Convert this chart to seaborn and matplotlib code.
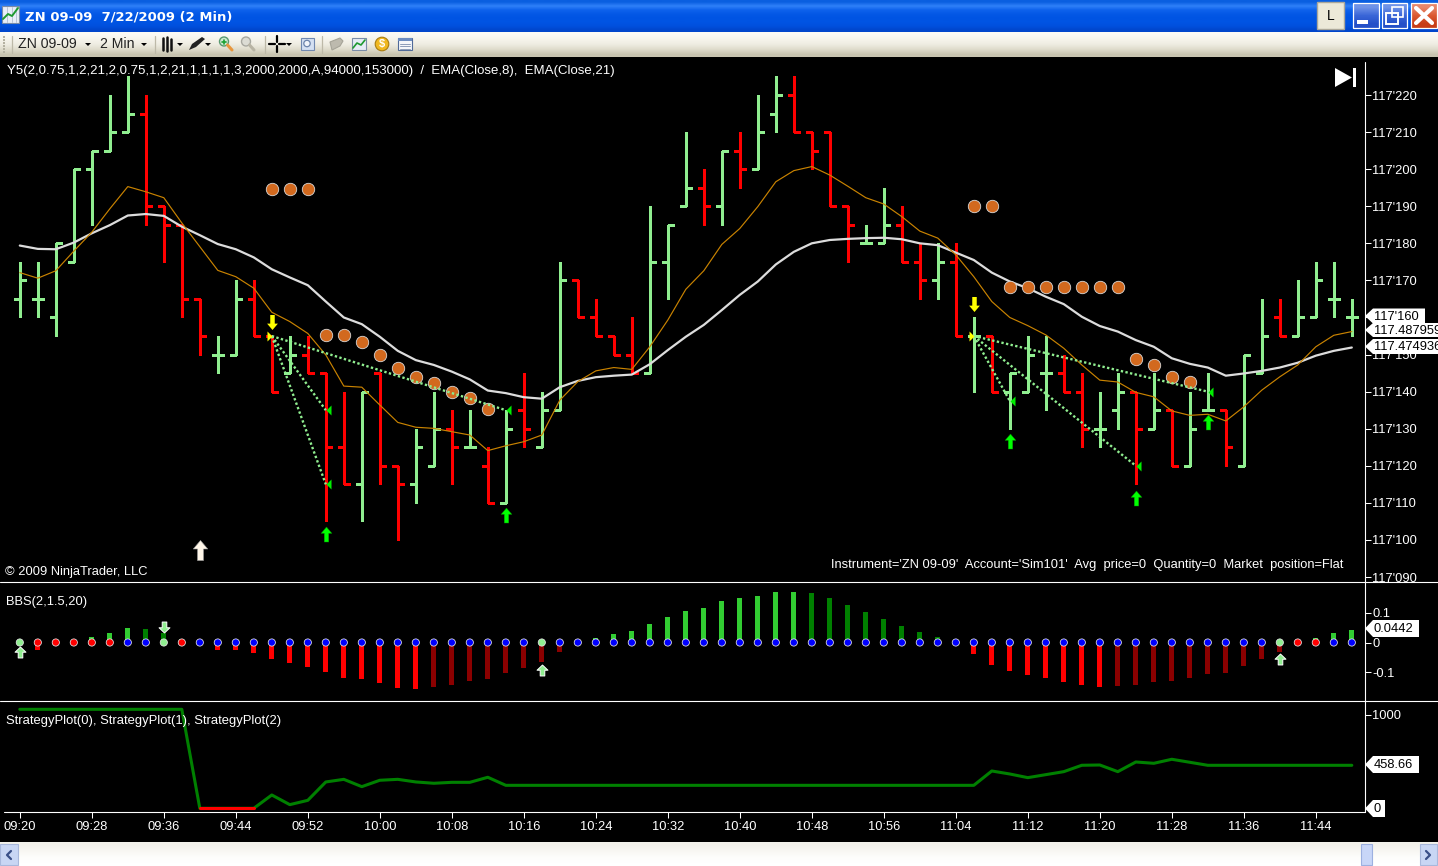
import numpy as np
import pandas as pd
import matplotlib.pyplot as plt
import seaborn as sns
from matplotlib.path import Path
from matplotlib.patches import Polygon, Rectangle, Circle

# prices are in the chart's own units: 220 means 117'220
high = [175,175,180,200,205,220,225,220,190,185, 165,155,170,170,155,155,155,145,140,140,
        145,120,130,140,135,135,125,135,145,140, 175,170,165,155,160,190,185,210,200,205,
        210,220,225,225,210,210,190,185,195,190, 180,180,180,160,155,145,155,155,150,145,
        140,145,140,145,135,140,145,135,150,165, 165,170,175,175,165]
low = [160,160,155,175,185,205,210,185,175,160, 150,145,150,155,140,145,145,105,115,105,
       115,100,110,120,115,125,110,110,125,125, 135,160,155,150,145,145,165,190,185,185,
       195,200,210,210,200,190,175,180,180,175, 165,165,155,140,140,130,140,135,140,125,
       125,130,115,130,120,120,135,120,120,145, 155,155,160,160,155]
open_ = [165,165,160,175,200,205,210,215,190,185, 165,150,150,165,155,145,150,145,125,115,
         145,120,115,120,130,125,120,110,135,125, 135,170,160,155,150,145,175,190,195,190,
         205,200,215,220,210,210,190,180,180,185, 175,170,175,155,155,140,140,145,145,140,
         130,135,140,130,135,120,135,135,120,145, 160,155,160,165,160]
close = [170,165,180,200,205,210,215,190,185,165, 155,150,165,155,140,150,145,125,115,140,
         120,115,125,130,125,125,110,130,130,135, 170,160,155,150,145,175,185,195,190,205,
         200,210,220,210,205,190,185,180,185,175, 170,175,155,155,140,145,150,145,140,130,
         130,140,130,135,120,130,135,125,150,155, 155,160,170,165,160]

ema8 = [172.1,170.6,172.6,177.9,183.0,189.3,195.3,193.9,192.3,185.5, 179.1,172.7,171.0,167.9,161.4,158.9,155.7,149.9,141.5,141.2,
        136.4,131.7,130.4,130.1,129.2,128.3,124.1,125.4,126.5,128.3, 137.7,142.7,145.6,146.5,146.0,152.1,159.3,167.6,172.6,179.7,
        184.0,189.9,196.6,199.6,200.7,198.4,195.4,192.3,190.6,187.2, 183.3,181.4,176.9,171.0,164.3,160.0,157.8,155.3,151.7,147.2,
        143.1,142.6,139.8,138.6,134.8,133.6,133.9,132.1,135.9,140.4, 144.0,147.2,152.1,155.2,156.2]
ema21 = [179.4,178.5,178.4,180.2,182.7,184.9,187.5,187.9,187.4,184.5, 182.2,179.8,178.4,176.2,173.0,170.8,168.7,164.3,160.0,158.2,
         154.8,151.0,148.5,147.2,145.4,143.3,140.3,139.6,138.5,138.1, 141.2,142.9,143.9,144.3,144.6,147.4,151.2,154.8,158.0,162.0,
         166.1,169.7,174.3,177.7,180.0,180.9,181.2,181.4,181.5,181.1, 180.0,179.5,177.5,175.5,172.1,169.7,167.9,165.6,163.6,160.2,
         157.7,156.2,153.9,152.1,149.0,147.5,146.5,144.3,144.9,145.6, 146.5,147.8,149.7,151.0,151.9]

dot_bars = [14,15,16, 17,18,19,20,21,22,23,24,25,26, 53,54, 55,56,57,58,59,60,61, 62,63,64,65]
dot_vals = [194.6,194.6,194.6, 155.3,155.3,153.4,149.9,146.4,143.9,142.3,140.0,138.3,135.3,
            190.1,190.1, 168.1,168.1,168.1,168.1,168.1,168.1,168.1, 148.7,147.2,144.0,142.6]

entry_sets = [(14, 155, [17,17,27], [135,115,135]),
              (53, 155, [55,62,66], [137.5,120,140])]
green_up_bars = [17,27,55,62,66]
green_up_vals = [101.5,106.7,126.7,111.4,131.8]
yellow_down_bars = [14,53]
yellow_down_vals = [158.8,163.6]
white_up_bars = [10]
white_up_vals = [97.3]

bbs = [0,-.025,0,0,.019,.033,.049,.046,.033,.012, 0,-.025,-.025,-.035,-.055,-.069,-.082,-.099,-.119,-.122,
       -.136,-.153,-.156,-.149,-.143,-.129,-.122,-.102,-.085,-.065, -.031,0,.016,.029,.039,.063,.087,.107,.117,.14,
       .151,.157,.171,.171,.167,.151,.127,.103,.08,.056, .036,.019,0,-.038,-.075,-.096,-.109,-.119,-.133,-.143,
       -.149,-.146,-.143,-.133,-.129,-.119,-.106,-.102,-.079,-.055, -.031,0,.016,.033,.043]
bbs_colors = (['red']*4 + ['limegreen']*3 + ['green']*3 + ['red']*13 + ['darkred']*8 + ['limegreen']*13
              + ['green']*8 + ['red']*9 + ['darkred']*10 + ['red']*1 + ['limegreen']*3)
dot_colors = (['lightgreen'] + ['red']*5 + ['blue']*2 + ['lightgreen'] + ['red'] + ['blue']*19 + ['lightgreen']
              + ['blue']*40 + ['lightgreen'] + ['red']*2 + ['blue']*2)
bbs_up_bars = [0,29,70]
bbs_up_vals = [-.032,-.091,-.054]
bbs_down_bars = [8]
bbs_down_vals = [.052]

strategy = [1056]*10 + [0,0,0,0,142,39,85,281,309,231,299,309,281,267,277,277,331] + [245]*27 \
           + [398,366,327,359,391,459,462,391,494,480,523,491] + [458.66]*9

time_labels = ['09:20','09:28','09:36','09:44','09:52','10:00','10:08','10:16','10:24','10:32',
               '10:40','10:48','10:56','11:04','11:12','11:20','11:28','11:36','11:44']
price_ticks = list(range(90, 221, 10))

W, H = 1438, 866
sns.set_theme(style='dark', rc={'axes.facecolor': 'black', 'figure.facecolor': 'black',
                                'axes.grid': False, 'text.color': 'white'})
plt.rcParams['font.family'] = ['Liberation Sans', 'DejaVu Sans']
FS = 9.3
XLIM = (-19.8 / 18, (1365 - 19.8) / 18)

bars = np.arange(len(high))
fig = plt.figure(figsize=(W / 100, H / 100), dpi=100)


def panel(top, bottom, right=1365):
    a = fig.add_axes([0, 1 - bottom / H, right / W, (bottom - top) / H])
    a.set_facecolor('black')
    for s in a.spines.values():
        s.set_visible(False)
    a.set_xlim(*XLIM)
    a.set_xticks([])
    a.yaxis.tick_right()
    a.tick_params(axis='y', colors='white', length=4.3, width=0.75, pad=0.8, labelsize=FS, right=True)
    return a


up_arrow = Path([(0,1),(.72,.15),(.3,.15),(.3,-1),(-.3,-1),(-.3,.15),(-.72,.15),(0,1)], closed=True)
down_arrow = Path([(x, -y) for x, y in up_arrow.vertices], closed=True)
bbs_up = Path([(0,1),(1,.05),(.42,.05),(.42,-1),(-.42,-1),(-.42,.05),(-1,.05),(0,1)], closed=True)
bbs_down = Path([(x, -y) for x, y in bbs_up.vertices], closed=True)
tri_left = Path([(0,0),(1,1),(1,-1),(0,0)], closed=True)
tri_right = Path([(0,0),(-1,1),(-1,-1),(0,0)], closed=True)

# price panel
ax = panel(57, 582)
ax.set_ylim(220 - (582 - 95) / 3.708, 220 + (95 - 57) / 3.708)
df = pd.DataFrame({'bar': bars, 'high': high, 'low': low, 'open': open_, 'close': close,
                   'ema8': ema8, 'ema21': ema21})
df['color'] = np.where(df['close'] >= df['open'], '#90EE90', '#FF0000')
ax.vlines(df['bar'], df['low'], df['high'], colors=df['color'], linewidth=2.16, zorder=2, antialiased=False)
ax.hlines(df['open'], df['bar'] - 0.34, df['bar'], colors=df['color'], linewidth=2.16, zorder=2, antialiased=False)
ax.hlines(df['close'], df['bar'], df['bar'] + 0.34, colors=df['color'], linewidth=2.16, zorder=2, antialiased=False)
sns.lineplot(data=df, x='bar', y='ema21', ax=ax, color='#DCDCDC', linewidth=1.6, zorder=3, errorbar=None)
sns.lineplot(data=df, x='bar', y='ema8', ax=ax, color='#C98300', linewidth=0.85, zorder=3, errorbar=None)
sns.scatterplot(x=dot_bars, y=dot_vals, ax=ax, color='#D2691E', edgecolor='#D8D8D8', linewidth=0.6, s=80, zorder=4)
for start, level, ends, vals in entry_sets:
    for e, v in zip(ends, vals):
        ax.plot([start, e], [level, v], color='#90EE90', linewidth=1.7, linestyle=(0, (1, 1)), zorder=5)
    ax.scatter(ends, vals, marker=tri_left, s=52, color='#00EE00', linewidth=0, zorder=6)
    ax.scatter([start], [level], marker=tri_right, s=52, color='#FFFF00', linewidth=0, zorder=6)
ax.scatter(green_up_bars, green_up_vals, marker=up_arrow, s=117, color='#00FF00', edgecolor='#008800', linewidth=0.3, zorder=6)
ax.scatter(yellow_down_bars, yellow_down_vals, marker=down_arrow, s=117, color='#FFFF00', linewidth=0, zorder=6)
ax.scatter(white_up_bars, white_up_vals, marker=up_arrow, s=210, color='#FFF6E8', edgecolor='#999999', linewidth=0.4, zorder=6)
ax.set_yticks(price_ticks)
ax.set_yticklabels(["117'%03d" % p for p in price_ticks])
ax.set_xlabel('')
ax.set_ylabel('')
ax.set_xticks([])
ax.set_xlim(*XLIM)

# BBS panel
ax2 = panel(583, 701)
df2 = pd.DataFrame({'bar': bars, 'bbs': bbs, 'color': bbs_colors})
sns.barplot(data=df2, x='bar', y='bbs', hue='color', native_scale=True, dodge=False, width=5 / 18,
            palette={'limegreen': '#32CD32', 'green': '#008000', 'red': '#FF0000', 'darkred': '#8B0000'},
            legend=False, ax=ax2, saturation=1, zorder=2, errorbar=None, edgecolor='none', linewidth=0)
ax2.scatter(bars, np.zeros(len(bars)), c=dot_colors, s=27, edgecolor='#E8E8E8', linewidth=0.55, zorder=3)
ax2.scatter(bbs_up_bars, bbs_up_vals, marker=bbs_up, s=62, color='#90EE90', edgecolor='white', linewidth=0.7, zorder=4)
ax2.scatter(bbs_down_bars, bbs_down_vals, marker=bbs_down, s=62, color='#90EE90', edgecolor='white', linewidth=0.7, zorder=4)
ax2.set_ylim((642.5 - 701) / 297, (642.5 - 583) / 297)
ax2.set_yticks([-0.1, 0, 0.1])
ax2.set_yticklabels(['-0.1', '0', '0.1'])
ax2.set_xlabel('')
ax2.set_ylabel('')
ax2.set_xticks([])
ax2.set_xlim(*XLIM)

# strategy panel
ax3 = panel(702, 812)
df3 = pd.DataFrame({'bar': bars, 'strategy': strategy})
sns.lineplot(data=df3, x='bar', y='strategy', ax=ax3, color='#008000', linewidth=2.2, errorbar=None)
sns.lineplot(data=df3[df3['bar'].between(10, 13)], x='bar', y='strategy', ax=ax3, color='#FF0000', linewidth=2.2, errorbar=None)
ax3.set_ylim(-39.5, 1134)
ax3.set_yticks([1000])
ax3.set_xticks(bars[::4])
ax3.set_xticklabels(time_labels)
ax3.tick_params(axis='x', colors='white', length=4.3, width=0.75, pad=2.2, labelsize=FS, bottom=True)
ax3.set_xlabel('')
ax3.set_ylabel('')
ax3.set_xlim(*XLIM)

# overlay in screen pixels: window frame, separators, value flags, captions
ov = fig.add_axes([0, 0, 1, 1], zorder=10)
ov.patch.set_alpha(0)
ov.axis('off')


def gradient(x0, x1, y0, y1, colors):
    rows = np.array([[plt.matplotlib.colors.to_rgb(c)] for c in colors])
    ov.imshow(rows, extent=(x0, x1, y1, y0), origin='upper', aspect='auto', interpolation='bilinear', zorder=1)


gradient(0, W, 0, 32, ['#0A5FE0', '#2F80F8', '#0E62EC', '#0458E6', '#0054E3', '#0054E3', '#0050DE', '#0046CC'])
gradient(0, W, 32, 57, ['#FBFAF5', '#F6F4EC', '#EEECE1', '#DEDBCB', '#C8C4B0'])
gradient(0, W, 842, 866, ['#F2F1EB', '#F8F7F3', '#FDFDFB', '#FFFFFF'])


def rect(x0, y0, x1, y1, fc, ec='none', lw=0.8, z=3):
    ov.add_patch(Rectangle((x0, y0), x1 - x0, y1 - y0, facecolor=fc, edgecolor=ec, linewidth=lw, zorder=z))


def poly(pts, fc, ec='none', lw=0.8, z=4):
    ov.add_patch(Polygon(pts, closed=True, facecolor=fc, edgecolor=ec, linewidth=lw, zorder=z))


# title bar
rect(2, 6, 19, 23, '#E8EEF8', '#7A8CA8')
for gx in (7, 12, 16):
    ov.plot([gx, gx], [7, 22], color='#B0BCD0', lw=0.6, zorder=4)
ov.plot([3, 8, 12, 18], [19, 14, 16, 8], color='#1E9A30', lw=1.4, zorder=5)
ov.text(25, 16.5, 'ZN 09-09  7/22/2009 (2 Min)', family='DejaVu Sans', weight='bold', fontsize=9.45, color='white', va='center', zorder=5)
rect(1317, 2, 1344, 29, '#ECE9D8', '#ACA899', 1)
ov.text(1330.5, 15.5, 'L', fontsize=10, color='black', ha='center', va='center', zorder=5)
gradient(1353, 1379, 3, 28, ['#6F93E8', '#3A66D8', '#2550C8'])
gradient(1382, 1407, 3, 28, ['#6F93E8', '#3A66D8', '#2550C8'])
gradient(1411, 1437, 3, 28, ['#E8876A', '#DC5A32', '#C83E18'])
for x0, x1 in ((1353, 1379), (1382, 1407), (1411, 1437)):
    rect(x0, 3, x1, 28, 'none', 'white', 0.9, z=4)
rect(1357, 20, 1368, 24, 'white', z=5)
rect(1386, 13, 1398, 24, 'none', 'white', 1.4, z=5)
rect(1392, 7, 1403, 17, 'none', 'white', 1.2, z=5)
ov.plot([1416, 1432], [8, 23], color='white', lw=3, zorder=5)
ov.plot([1416, 1432], [23, 8], color='white', lw=3, zorder=5)

# toolbar
for gy in range(36, 54, 3):
    rect(3, gy, 5, gy + 1.5, '#B5B2A2')
for sx in (12, 155, 265, 322):
    ov.plot([sx, sx], [36, 53], color='#BDB9A8', lw=0.9, zorder=4)
ov.text(18, 44.5, 'ZN 09-09', fontsize=10.2, color='#222222', va='center', zorder=5)
ov.text(100, 44.5, '2 Min', fontsize=10.2, color='#222222', va='center', zorder=5)
for ax_x in (88, 144, 180, 208, 289):
    poly([(ax_x - 3, 43), (ax_x + 3, 43), (ax_x, 46)], 'black')
for bx, y0, y1 in ((163, 38, 50), (167, 37, 51), (171, 39, 50)):
    ov.plot([bx, bx], [y0, y1], color='#111111', lw=1.8, zorder=5)
poly([(189, 50), (192, 44), (202, 37), (205, 39), (196, 47)], '#222222')
ov.add_patch(Circle((224, 41.5), 4.5, facecolor='#CFE8D0', edgecolor='#5A9A70', lw=1, zorder=4))
ov.plot([222, 226], [41.5, 41.5], color='#18A030', lw=1.2, zorder=5)
ov.plot([224, 224], [39.5, 43.5], color='#18A030', lw=1.2, zorder=5)
ov.plot([227.5, 232], [45, 50], color='#E8963C', lw=2.2, zorder=4)
ov.add_patch(Circle((246, 41.5), 4.5, facecolor='#DCDCD4', edgecolor='#A8A8A0', lw=1, zorder=4))
ov.plot([249.5, 254], [45, 50], color='#B8B4A4', lw=2.2, zorder=4)
ov.plot([269, 275], [44, 44], color='black', lw=1.6, zorder=5)
ov.plot([279, 285], [44, 44], color='black', lw=1.6, zorder=5)
ov.plot([277, 277], [36, 42], color='black', lw=1.6, zorder=5)
ov.plot([277, 277], [46, 52], color='black', lw=1.6, zorder=5)
rect(301, 38, 314, 50, '#D4E0F2', '#7088B0')
ov.add_patch(Circle((307, 43.5), 3.2, facecolor='#F0F4FA', edgecolor='#6C84AC', lw=0.9, zorder=5))
poly([(330, 42), (340, 38), (343, 41), (340, 46), (332, 50)], '#BDBAAE', '#A6A498')
rect(352, 38, 366, 50, '#E6ECF6', '#7A8CA8')
ov.plot([353, 357, 361, 365], [48, 43, 45, 40], color='#1E9A30', lw=1.2, zorder=5)
ov.add_patch(Circle((382, 44), 6.8, facecolor='#F0B820', edgecolor='#A87C10', lw=0.8, zorder=4))
ov.text(382, 44.5, '$', fontsize=8, weight='bold', color='white', ha='center', va='center', zorder=5)
rect(398, 38, 412, 50, '#F4F6FA', '#506A98')
rect(398, 38, 412, 41, '#6C8CC0')
for ty in (43.5, 46, 48.5):
    ov.plot([400, 410], [ty, ty], color='#8C9CB8', lw=0.7, zorder=5)

# scrollbar
rect(0, 844, 18, 865, '#C8D6F4', '#A8B8DC')
rect(1361, 844, 1372, 865, '#C8D6F8', '#9CB0E0')
rect(1420, 844, 1437, 865, '#C8D6F4', '#A8B8DC')
ov.plot([11, 7, 11], [851, 855, 859], color='#3A5088', lw=1.6, zorder=5)
ov.plot([1426, 1430, 1426], [851, 855, 859], color='#3A5088', lw=1.6, zorder=5)

# separators and axis lines
ov.plot([0, W], [582, 582], color='white', lw=0.8, zorder=6)
ov.plot([0, W], [701, 701], color='white', lw=0.8, zorder=6)
ov.plot([4, 1365], [812, 812], color='white', lw=0.8, zorder=6)
ov.plot([1365, 1365], [62, 812], color='white', lw=0.8, zorder=6)

# captions
ov.text(7, 71, 'Y5(2,0.75,1,2,21,2,0.75,1,2,21,1,1,1,1,3,2000,2000,A,94000,153000)  /  EMA(Close,8),  EMA(Close,21)',
        fontsize=FS + 0.2, color='white', va='center', zorder=7)
ov.text(5, 572, '\u00a9 2009 NinjaTrader, LLC', fontsize=FS, color='white', va='center', zorder=7)
ov.text(1343, 565, "Instrument='ZN 09-09'  Account='Sim101'  Avg  price=0  Quantity=0  Market  position=Flat",
        fontsize=FS, color='white', va='center', ha='right', zorder=7)
ov.text(6, 601.5, 'BBS(2,1.5,20)', fontsize=FS, color='white', va='center', zorder=7)
ov.text(6, 721, 'StrategyPlot(0), StrategyPlot(1), StrategyPlot(2)', fontsize=FS + 0.1, color='white', va='center', zorder=7)
poly([(1335, 68), (1352, 77.5), (1335, 87)], 'white', z=7)
rect(1353, 68, 1356, 87, 'white', z=7)


def flag(yc, x1, half, label):
    poly([(1365, yc), (1373, yc - half), (x1, yc - half), (x1, yc + half), (1373, yc + half)], 'white', z=7)
    ov.text(1374, yc + 0.5, label, fontsize=FS, color='black', va='center', zorder=8, clip_on=True)


flag(316, 1425, 7.5, "117'160")
flag(330, W, 7, '117.487959')
flag(346.5, W, 7.5, '117.474936')
flag(628.5, 1419, 8.5, '0.0442')
flag(764.5, 1419, 8.5, '458.66')
flag(808.5, 1385, 8.5, '0')

ov.set_xlim(0, W)
ov.set_ylim(H, 0)

fig.savefig('out.png', dpi=100, facecolor='black')
